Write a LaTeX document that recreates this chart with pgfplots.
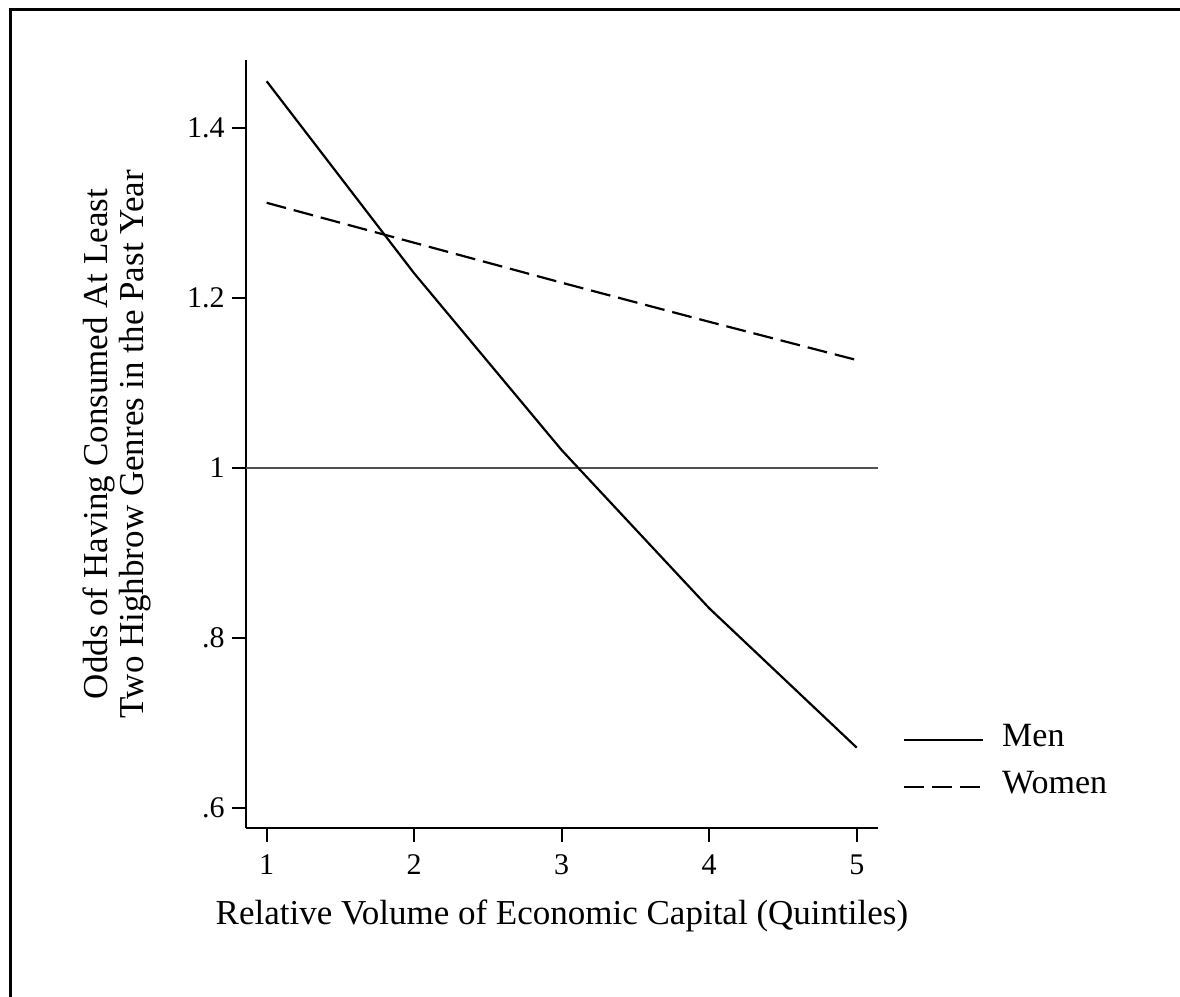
\documentclass[border=0pt]{standalone}
\usepackage{fontspec}
\setmainfont{Liberation Serif}
\usepackage{pgfplots}
\pgfplotsset{compat=1.18}
\begin{document}
\begin{tikzpicture}
\useasboundingbox (0,0) rectangle (590pt,498.5pt);
\fill[white] (0,0) rectangle (590pt,498.5pt);
\draw[line width=1.5pt, line join=miter] (5pt,-2pt) -- (5pt,493.5pt) -- (592pt,493.5pt);
\begin{axis}[
  at={(122.85pt,84.5pt)}, anchor=south west,
  scale only axis, width=316.15pt, height=384pt,
  xmin=0.858, xmax=5.144, ymin=0.5765, ymax=1.48,
  axis x line*=bottom, axis y line*=left,
  axis line style={line width=1pt, black},
  xtick={1,2,3,4,5}, xticklabels={1,2,3,4,5},
  ytick={0.6,0.8,1,1.2,1.4}, yticklabels={.6,.8,1,1.2,1.4},
  tick align=outside, major tick length=7pt,
  tick style={line width=1pt, black},
  ticklabel style={font=\fontsize{15}{16}\selectfont},
  xticklabel style={yshift=-3pt},
  xlabel={Relative Volume of Economic Capital (Quintiles)},
  xlabel style={font=\fontsize{17.5}{18}\selectfont, at={(axis description cs:0.5,-0.1263)}, anchor=base},
  ylabel={Odds of Having Consumed At Least\\Two Highbrow Genres in the Past Year},
  ylabel style={align=center, font=\fontsize{17.5}{18}\selectfont, at={(axis description cs:-0.2035,0.5)}, anchor=center},
  legend image code/.code={\draw[#1] (0pt,0pt) -- (39.5pt,0pt);},
  legend cell align=left,
  legend style={draw=none, fill=none, inner sep=0pt, outer sep=0pt,
    font=\fontsize{17}{18}\selectfont,
    at={(axis description cs:1.0396,0.084)}, anchor=west,
    nodes={inner sep=0pt, text height=11pt, text depth=4pt},
    row sep=8.5pt,
    /tikz/every odd column/.style={column sep=9pt}},
]
\addplot[line width=1pt, color={rgb,255:red,80;green,80;blue,80}, forget plot] coordinates {(0.858,1) (5.144,1)};
\addplot[line width=1.1pt, black] coordinates {(1,1.455) (2,1.229) (3,1.021) (4,0.835) (5,0.671)};
\addplot[line width=1.1pt, black, dash pattern=on 10pt off 4pt] coordinates {(1,1.312) (2,1.265) (3,1.218) (4,1.172) (5,1.127)};
\legend{Men, Women}
\end{axis}
\end{tikzpicture}
\end{document}
